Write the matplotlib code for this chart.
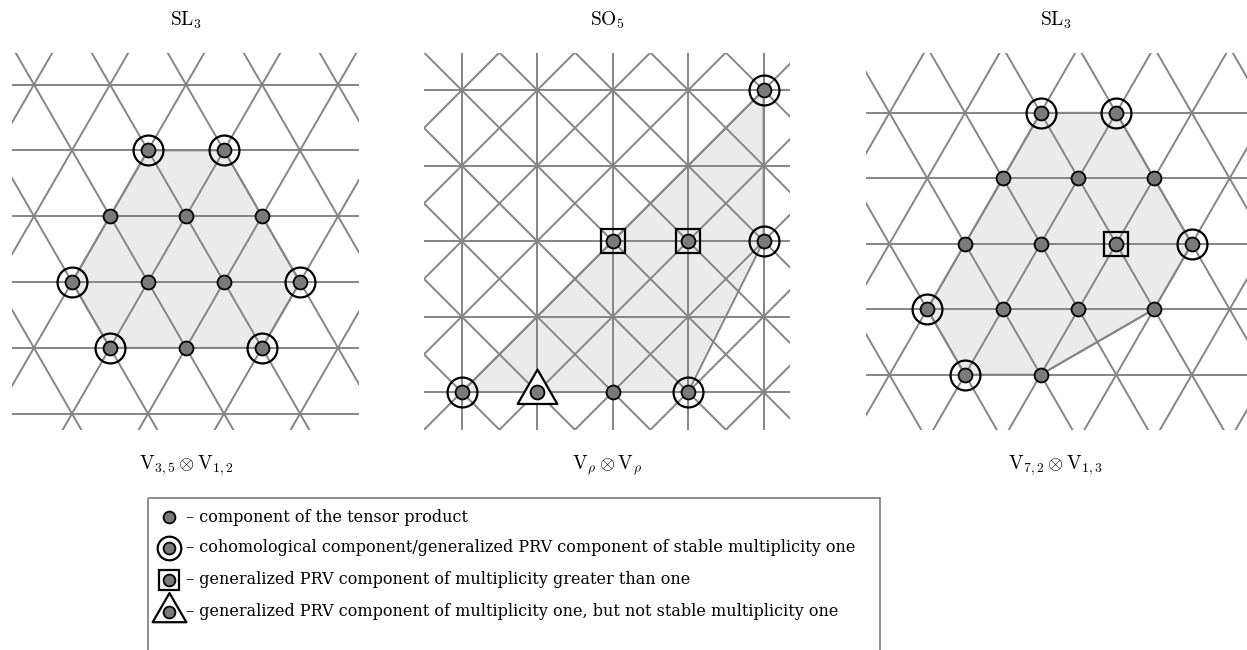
import numpy as np
import matplotlib
matplotlib.use('Agg')
import matplotlib.pyplot as plt
from matplotlib.path import Path
from matplotlib.patches import Polygon, Rectangle

plt.rcParams['mathtext.fontset'] = 'cm'

H = np.sqrt(3) / 2          # row height of the triangular lattice
GRID = '#858585'
FILL = '#ebebeb'
DOT = '#7a7a7a'

# panel 1: SL3, V_{3,5} (x) V_{1,2}   (x in edge units, k = row -> y = k*H)
a_dot_x = [1, 2, 0.5, 1.5, 2.5, 0, 1, 2, 3, 0.5, 1.5, 2.5]
a_dot_k = [2, 2, 1, 1, 1, 0, 0, 0, 0, -1, -1, -1]
a_ring_x = [1, 2, 0, 3, 0.5, 2.5]
a_ring_k = [2, 2, 0, 0, -1, -1]
a_hull_x = [1, 2, 3, 2.5, 0.5, 0]
a_hull_k = [2, 2, 0, -1, -1, 0]

# panel 2: SO5, V_rho (x) V_rho   (square lattice)
b_dot_x = [0, 1, 2, 3, 2, 3, 4, 4]
b_dot_y = [0, 0, 0, 0, 2, 2, 2, 4]
b_ring_x = [0, 3, 4, 4]
b_ring_y = [0, 0, 2, 4]
b_sq_x = [2, 3]
b_sq_y = [2, 2]
b_tri_x = [1]
b_tri_y = [0]
b_hull_x = [0, 3, 4, 4]
b_hull_y = [0, 0, 2, 4]

# panel 3: SL3, V_{7,2} (x) V_{1,3}
c_dot_x = [1, 2, 0.5, 1.5, 2.5, 0, 1, 2, 3, -0.5, 0.5, 1.5, 2.5, 0, 1]
c_dot_k = [2, 2, 1, 1, 1, 0, 0, 0, 0, -1, -1, -1, -1, -2, -2]
c_ring_x = [1, 2, 3, -0.5, 0]
c_ring_k = [2, 2, 0, -1, -2]
c_sq_x = [2]
c_sq_k = [0]
c_hull_x = [1, 2, 3, 2.5, 1, 0, -0.5]
c_hull_k = [2, 2, 0, -1, -2, -2, -1]

titles = [r'$\mathrm{SL}_3$', r'$\mathrm{SO}_5$', r'$\mathrm{SL}_3$']
captions = [r'$\mathrm{V}_{3,5}\otimes\mathrm{V}_{1,2}$',
            r'$\mathrm{V}_{\rho}\otimes\mathrm{V}_{\rho}$',
            r'$\mathrm{V}_{7,2}\otimes\mathrm{V}_{1,3}$']
legend_labels = ['– component of the tensor product',
                 '– cohomological component/generalized PRV component of stable multiplicity one',
                 '– generalized PRV component of multiplicity greater than one',
                 '– generalized PRV component of multiplicity one, but not stable multiplicity one']

W, HT = 1247, 650
fig = plt.figure(figsize=(W / 100, HT / 100), dpi=100)


def px_axes(x0, y0, x1, y1):
    return fig.add_axes([x0 / W, 1 - y1 / HT, (x1 - x0) / W, (y1 - y0) / HT])


# triangle marker with its centroid at the origin
TRI = Path([(0, 2 / 3), (-1 / np.sqrt(3), -1 / 3), (1 / np.sqrt(3), -1 / 3), (0, 2 / 3)],
           [Path.MOVETO, Path.LINETO, Path.LINETO, Path.CLOSEPOLY])

DOT_KW = dict(marker='o', ms=10, mfc=DOT, mec='black', mew=1.3, ls='none', zorder=6)
RING_KW = dict(marker='o', ms=21.5, mfc='none', mec='black', mew=1.6, ls='none', zorder=5)
SQ_KW = dict(marker='s', ms=17.5, mfc='none', mec='black', mew=1.6, ls='none', zorder=5)
TRI_KW = dict(marker=TRI, ms=33, mfc='white', mec='black', mew=1.6, ls='none', zorder=5)


def tri_lattice(ax):
    for k in range(-5, 6):
        ax.axhline(k * H, color=GRID, lw=1.4, zorder=2)
    for i in range(-8, 10):
        ax.axline((i, 0), slope=np.sqrt(3), color=GRID, lw=1.4, zorder=2)
        ax.axline((i, 0), slope=-np.sqrt(3), color=GRID, lw=1.4, zorder=2)


def sq_lattice(ax):
    for i in range(-2, 7):
        ax.axhline(i, color=GRID, lw=1.4, zorder=2)
        ax.axvline(i, color=GRID, lw=1.4, zorder=2)
    for i in range(-8, 10):
        ax.axline((i, 0), slope=1, color=GRID, lw=1.4, zorder=2)
        ax.axline((i, 0), slope=-1, color=GRID, lw=1.4, zorder=2)


def finish(ax, xlim, ylim):
    ax.set_xlim(*xlim)
    ax.set_ylim(*ylim)
    ax.set_aspect('equal', adjustable='box')
    ax.axis('off')


# panel 1
ax1 = px_axes(12, 53, 359, 430)
tri_lattice(ax1)
ax1.add_patch(Polygon(np.c_[a_hull_x, np.array(a_hull_k) * H], closed=True,
                      fc=FILL, ec=GRID, lw=1.4, zorder=1))
ax1.plot(a_ring_x, np.array(a_ring_k) * H, **RING_KW)
ax1.plot(a_dot_x, np.array(a_dot_k) * H, **DOT_KW)
finish(ax1, (-0.789, 3.776), (-1.947, 3.013))

# panel 2
ax2 = px_axes(424, 53, 790, 430)
sq_lattice(ax2)
ax2.add_patch(Polygon(np.c_[b_hull_x, b_hull_y], closed=True,
                      fc=FILL, ec=GRID, lw=1.4, zorder=1))
ax2.plot(b_ring_x, b_ring_y, **RING_KW)
ax2.plot(b_sq_x, b_sq_y, **SQ_KW)
ax2.plot(b_tri_x, b_tri_y, **TRI_KW)
ax2.plot(b_dot_x, b_dot_y, **DOT_KW)
finish(ax2, (-0.5, 4.35), (-0.5, 4.49))

# panel 3
ax3 = px_axes(866, 53, 1247, 430)
tri_lattice(ax3)
ax3.add_patch(Polygon(np.c_[c_hull_x, np.array(c_hull_k) * H], closed=True,
                      fc=FILL, ec=GRID, lw=1.4, zorder=1))
ax3.add_line(plt.Line2D([2.5, 1], [-H, -2 * H], color=GRID, lw=1.4, zorder=3))
ax3.plot(c_ring_x, np.array(c_ring_k) * H, **RING_KW)
ax3.plot(c_sq_x, np.array(c_sq_k) * H, **SQ_KW)
ax3.plot(c_dot_x, np.array(c_dot_k) * H, **DOT_KW)
finish(ax3, (-1.31, 3.73), (-2.46, 2.52))

# titles and captions
for cx, t, c in zip([186, 607, 1056], titles, captions):
    fig.text(cx / W, 1 - 26 / HT, t, ha='center', va='baseline', fontsize=14)
    fig.text(cx / W, 1 - 465 / HT, c, ha='center', va='center', fontsize=14)

# legend, drawn in pixel coordinates
ov = fig.add_axes([0, 0, 1, 1])
ov.set_xlim(0, W)
ov.set_ylim(HT, 0)
ov.axis('off')
ov.add_patch(Rectangle((148, 498), 732, 200, fc='none', ec=GRID, lw=1.3, clip_on=False))
rows = [517, 548, 580, 612]
mx = 169
ov.plot([mx], [rows[1]], **dict(RING_KW, ms=17))
ov.plot([mx], [rows[2]], **dict(SQ_KW, ms=14))
ov.plot([mx], [rows[3]], **dict(TRI_KW, ms=28))
ov.plot([mx] * 4, rows, **dict(DOT_KW, ms=8.5))
for y, lab in zip(rows, legend_labels):
    ov.text(186, y, lab, ha='left', va='center', fontsize=11.5, family='DejaVu Serif')

fig.savefig('out.png', dpi=100)
